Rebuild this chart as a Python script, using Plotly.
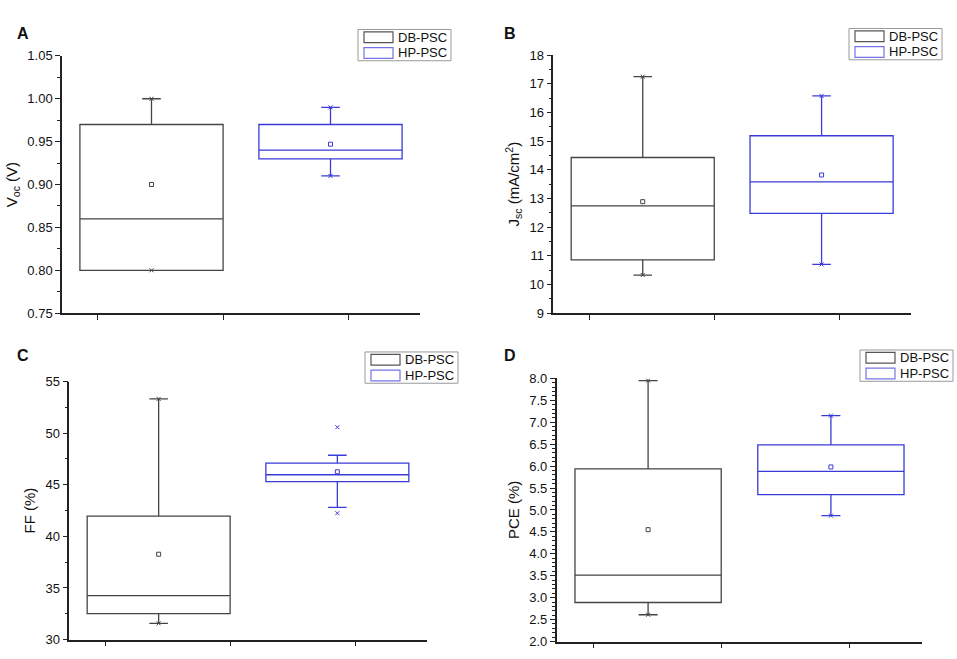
import plotly.graph_objects as go

W, H = 957, 659
FONT = "Liberation Sans, Arial, sans-serif"

GROUPS = ["DB-PSC", "HP-PSC"]
COLORS = ["#444444", "#3a3ad8"]
LEGEND_COLORS = ["#555555", "#7474ea"]

# box statistics: [DB-PSC, HP-PSC]
voc_q1 = [0.80, 0.93]
voc_med = [0.86, 0.94]
voc_q3 = [0.97, 0.97]
voc_low = [0.80, 0.91]
voc_high = [1.00, 0.99]
voc_mean = [0.900, 0.947]
voc_marks = [[1.00, 0.80], [0.99, 0.91]]

jsc_q1 = [10.86, 12.48]
jsc_med = [12.74, 13.58]
jsc_q3 = [14.43, 15.19]
jsc_low = [10.33, 10.70]
jsc_high = [17.25, 16.58]
jsc_mean = [12.89, 13.82]
jsc_marks = [[17.25, 10.33], [16.58, 10.70]]

ff_q1 = [32.52, 45.30]
ff_med = [34.26, 45.97]
ff_q3 = [41.96, 47.10]
ff_low = [31.57, 42.81]
ff_high = [53.32, 47.86]
ff_mean = [38.27, 46.26]
ff_marks = [[53.32, 31.57], [50.58, 42.25]]

pce_q1 = [2.89, 5.35]
pce_med = [3.515, 5.88]
pce_q3 = [5.935, 6.485]
pce_low = [2.61, 4.87]
pce_high = [7.95, 7.15]
pce_mean = [4.55, 5.98]
pce_marks = [[7.95, 2.61], [7.15, 4.87]]

# layout of each panel in pixels: axes box (left, top, right, bottom), legend origin, letter position
panels = [
    dict(letter="A", box=(62, 50, 420, 313.3), leg=(358, 23), lab=(15, 16),
         title="V<sub>oc</sub> (V)", yr=[0.75, 1.05], dtick=0.05, minor=0.025, fmt=".2f",
         stats=(voc_q1, voc_med, voc_q3, voc_low, voc_high, voc_mean, voc_marks)),
    dict(letter="B", box=(553.3, 49.3, 911, 313.3), leg=(849, 22), lab=(510, 16),
         title="J<sub>sc</sub> (mA/cm<sup>2</sup>)", yr=[9, 18], dtick=1, minor=0.5, fmt="d",
         stats=(jsc_q1, jsc_med, jsc_q3, jsc_low, jsc_high, jsc_mean, jsc_marks)),
    dict(letter="C", box=(69.3, 383.3, 426.7, 647.3), leg=(365, 353), lab=(15, 357),
         title="FF (%)", yr=[30, 55], dtick=5, minor=2.5, fmt="d",
         stats=(ff_q1, ff_med, ff_q3, ff_low, ff_high, ff_mean, ff_marks)),
    dict(letter="D", box=(556.7, 380, 922.3, 649.3), leg=(860, 351), lab=(510, 357),
         title="PCE (%)", yr=[2.0, 8.0], dtick=0.5, minor=0.1, fmt=".1f",
         stats=(pce_q1, pce_med, pce_q3, pce_low, pce_high, pce_mean, pce_marks)),
]

box_pos = [0.25, 0.75]
box_width = 0.40
xticks = [0.10, 0.45, 0.80]


def px(x):
    return x / W


def py(y):
    return 1 - y / H


fig = go.Figure()
shapes = []
annotations = []

for i, p in enumerate(panels):
    sfx = "" if i == 0 else str(i + 1)
    xa, ya = "x" + sfx, "y" + sfx
    q1, med, q3, low, high, mean, marks = p["stats"]
    for g in range(2):
        fig.add_trace(go.Box(
            x=[box_pos[g]], q1=[q1[g]], median=[med[g]], q3=[q3[g]],
            lowerfence=[low[g]], upperfence=[high[g]],
            width=box_width, whiskerwidth=0.13, boxpoints=False,
            line=dict(color=COLORS[g], width=1.3), fillcolor="rgba(0,0,0,0)",
            name=GROUPS[g], showlegend=False, xaxis=xa, yaxis=ya))
        fig.add_trace(go.Scatter(
            x=[box_pos[g]], y=[mean[g]], mode="markers",
            marker=dict(symbol="square-open", size=4, color=COLORS[g], line=dict(width=1)),
            showlegend=False, hoverinfo="skip", xaxis=xa, yaxis=ya))
        fig.add_trace(go.Scatter(
            x=[box_pos[g]] * len(marks[g]), y=marks[g], mode="markers",
            marker=dict(symbol="x-thin-open", size=4, color=COLORS[g], line=dict(width=1)),
            showlegend=False, hoverinfo="skip", xaxis=xa, yaxis=ya))

    l, t, r, b = p["box"]
    axis_common = dict(showline=True, linecolor="#222222", linewidth=1.5, showgrid=False,
                       zeroline=False, ticks="outside", tickcolor="#222222", tickwidth=1.2,
                       ticklen=5)
    fig.layout["xaxis" + sfx] = dict(
        domain=[px(l), px(r)], range=[0, 1], anchor=ya, tickvals=xticks,
        showticklabels=False, **axis_common)
    fig.layout["yaxis" + sfx] = dict(
        domain=[py(b), py(t)], range=p["yr"], anchor=xa, dtick=p["dtick"], tick0=p["yr"][0],
        tickformat=p["fmt"], tickfont=dict(family=FONT, size=13, color="#111111"),
        minor=dict(ticks="outside", ticklen=3, dtick=p["minor"], tickcolor="#222222", tickwidth=1),
        title=dict(text=p["title"], font=dict(family=FONT, size=15, color="#111111"), standoff=6),
        **axis_common)

    # panel letter
    annotations.append(dict(x=px(p["lab"][0]), y=py(p["lab"][1]), xref="paper", yref="paper",
                            text="<b>" + p["letter"] + "</b>", showarrow=False,
                            font=dict(family=FONT, size=16, color="#111111")))

    # legend frame with two entries
    lx, ly = p["leg"]
    shapes.append(dict(type="rect", xref="paper", yref="paper", x0=px(lx), x1=px(lx + 93),
                       y0=py(ly), y1=py(ly + 32), line=dict(color="#999999", width=1),
                       fillcolor="white"))
    for g in range(2):
        y0 = ly + 2.5 + 16 * g
        shapes.append(dict(type="rect", xref="paper", yref="paper", x0=px(lx + 6), x1=px(lx + 35),
                           y0=py(y0), y1=py(y0 + 11), line=dict(color=LEGEND_COLORS[g], width=1.2)))
        annotations.append(dict(x=px(lx + 38), y=py(y0 + 5.5), xref="paper", yref="paper",
                                text=GROUPS[g], showarrow=False, xanchor="left", yanchor="middle",
                                font=dict(family=FONT, size=13, color="#111111")))

fig.update_layout(width=W, height=H, margin=dict(l=0, r=0, t=0, b=0),
                  plot_bgcolor="white", paper_bgcolor="white",
                  shapes=shapes, annotations=annotations, showlegend=False)

# drop the default page margin so the figure sits at the window origin
fig.write_html("out.html", config={"displayModeBar": False},
               post_script="document.body.style.margin='0';")
